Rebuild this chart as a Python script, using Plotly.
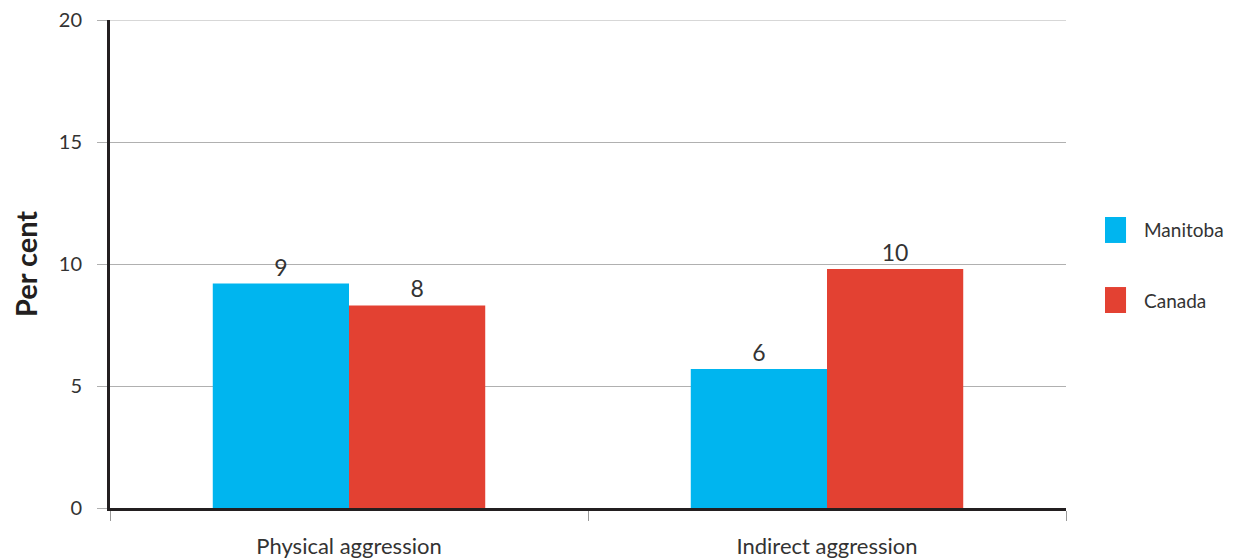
import plotly.graph_objects as go

categorias = ['Physical aggression', 'Indirect aggression']
manitoba = [9.2, 5.7]
canada = [8.3, 9.8]
rot_manitoba = ['9', '6']
rot_canada = ['8', '10']
y_max = 20

fonte = 'Lato, Open Sans, sans-serif'
cor_m = '#00B5EF'
cor_c = '#E34132'

fig = go.Figure()
fig.add_trace(go.Bar(
    name='Manitoba',
    x=categorias,
    y=manitoba,
    text=rot_manitoba,
    textposition='outside',
    marker=dict(color=cor_m, line=dict(width=0))
))
fig.add_trace(go.Bar(
    name='Canada',
    x=categorias,
    y=canada,
    text=rot_canada,
    textposition='outside',
    marker=dict(color=cor_c, line=dict(width=0))
))

fig.update_traces(textfont=dict(size=23, color='#333333', family=fonte),
                  cliponaxis=False, showlegend=False)

# linha de grade do topo (o plotly nao desenha a da borda)
fig.add_shape(type='line', xref='paper', yref='y', x0=0, x1=1, y0=y_max, y1=y_max,
              line=dict(color='#b0b0b0', width=1), layer='below')

# legenda feita a mao, com quadrados maiores
for i, (nome, cor) in enumerate([('Manitoba', cor_m), ('Canada', cor_c)]):
    yc = 0.5697 - i * 0.1435
    fig.add_shape(type='rect', xref='paper', yref='paper',
                  x0=1.0408, x1=1.0628, y0=yc - 0.0266, y1=yc + 0.0266,
                  fillcolor=cor, line=dict(width=0))
    fig.add_annotation(xref='paper', yref='paper', x=1.0795, y=yc,
                       text=nome, showarrow=False, xanchor='left', yanchor='middle',
                       font=dict(size=19, color='#333333'))

fig.update_layout(
    width=1260,
    height=558,
    margin=dict(l=102, r=202, t=12, b=58),
    plot_bgcolor='white',
    paper_bgcolor='white',
    barmode='group',
    bargap=0.43,
    bargroupgap=0,
    font=dict(family=fonte, color='#333333', size=18),
    xaxis=dict(
        showline=True, linecolor='#231f20', linewidth=3,
        ticks='outside', tickson='boundaries', ticklen=10,
        tickcolor='#999999', tickwidth=1,
        tickfont=dict(size=22),
        ticklabelstandoff=17,
        ticklabeloverflow='allow',
        automargin=False
    ),
    yaxis=dict(
        range=[0, y_max], tickmode='array', tickvals=[0, 5, 10, 15, 20],
        showline=True, linecolor='#231f20', linewidth=3,
        showgrid=True, gridcolor='#b0b0b0', gridwidth=1,
        ticks='outside', ticklen=10, tickcolor='#b0b0b0',
        tickfont=dict(size=20),
        ticklabelstandoff=11,
        ticklabeloverflow='allow',
        zeroline=False,
        automargin=False,
        title=dict(text='<b>Per cent</b>', font=dict(size=29, color='#231f20'), standoff=22)
    )
)

fig.write_html("out.html")
